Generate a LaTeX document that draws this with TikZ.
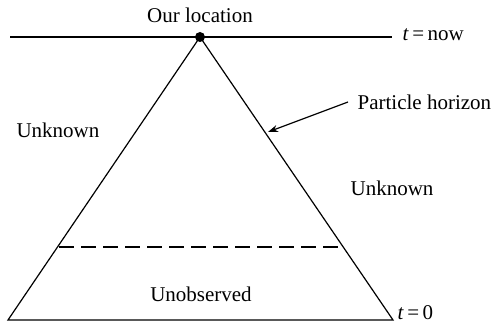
\documentclass[tikz,border=0pt]{standalone}
\usepackage{fontspec}
\setmainfont{Liberation Serif}
\usetikzlibrary{arrows.meta}
\begin{document}
\begin{tikzpicture}[x=0.5pt,y=-0.5pt,line width=0.6pt,every node/.style={font=\fontsize{10.5}{12}\selectfont,inner sep=0pt}]
  \useasboundingbox (0,0) rectangle (493,324);
  \coordinate (here) at (200,37);
  \coordinate (nowL) at (10,37);
  \coordinate (nowR) at (392,37);
  \coordinate (baseL) at (8,320);
  \coordinate (baseR) at (393,320);
  \coordinate (obsL) at (59,247);
  \coordinate (obsR) at (342,247);
  \coordinate (hit) at (268,132);
  \draw (nowL) -- (nowR);
  \draw (baseL) -- (here) -- (baseR) -- cycle;
  \draw[dash pattern=on 7.5pt off 3.5pt] (obsL) -- (obsR);
  \fill (here) circle (5);
  \node (loc) at (200,15) {Our location};
  \node[anchor=west] (tnow) at (402,35) {\textit{t}\,=\,now};
  \node[anchor=west] (tzero) at (397,313) {\textit{t}\,=\,0};
  \node[anchor=west,inner xsep=4.5pt] (horizon) at (348,102) {Particle horizon};
  \draw[-{Stealth[length=5pt,width=3.5pt]}] (horizon.west) -- (hit);
  \node (unkL) at (58,130) {Unknown};
  \node (unkR) at (392,188) {Unknown};
  \node (unobs) at (201,294) {Unobserved};
\end{tikzpicture}
\end{document}
